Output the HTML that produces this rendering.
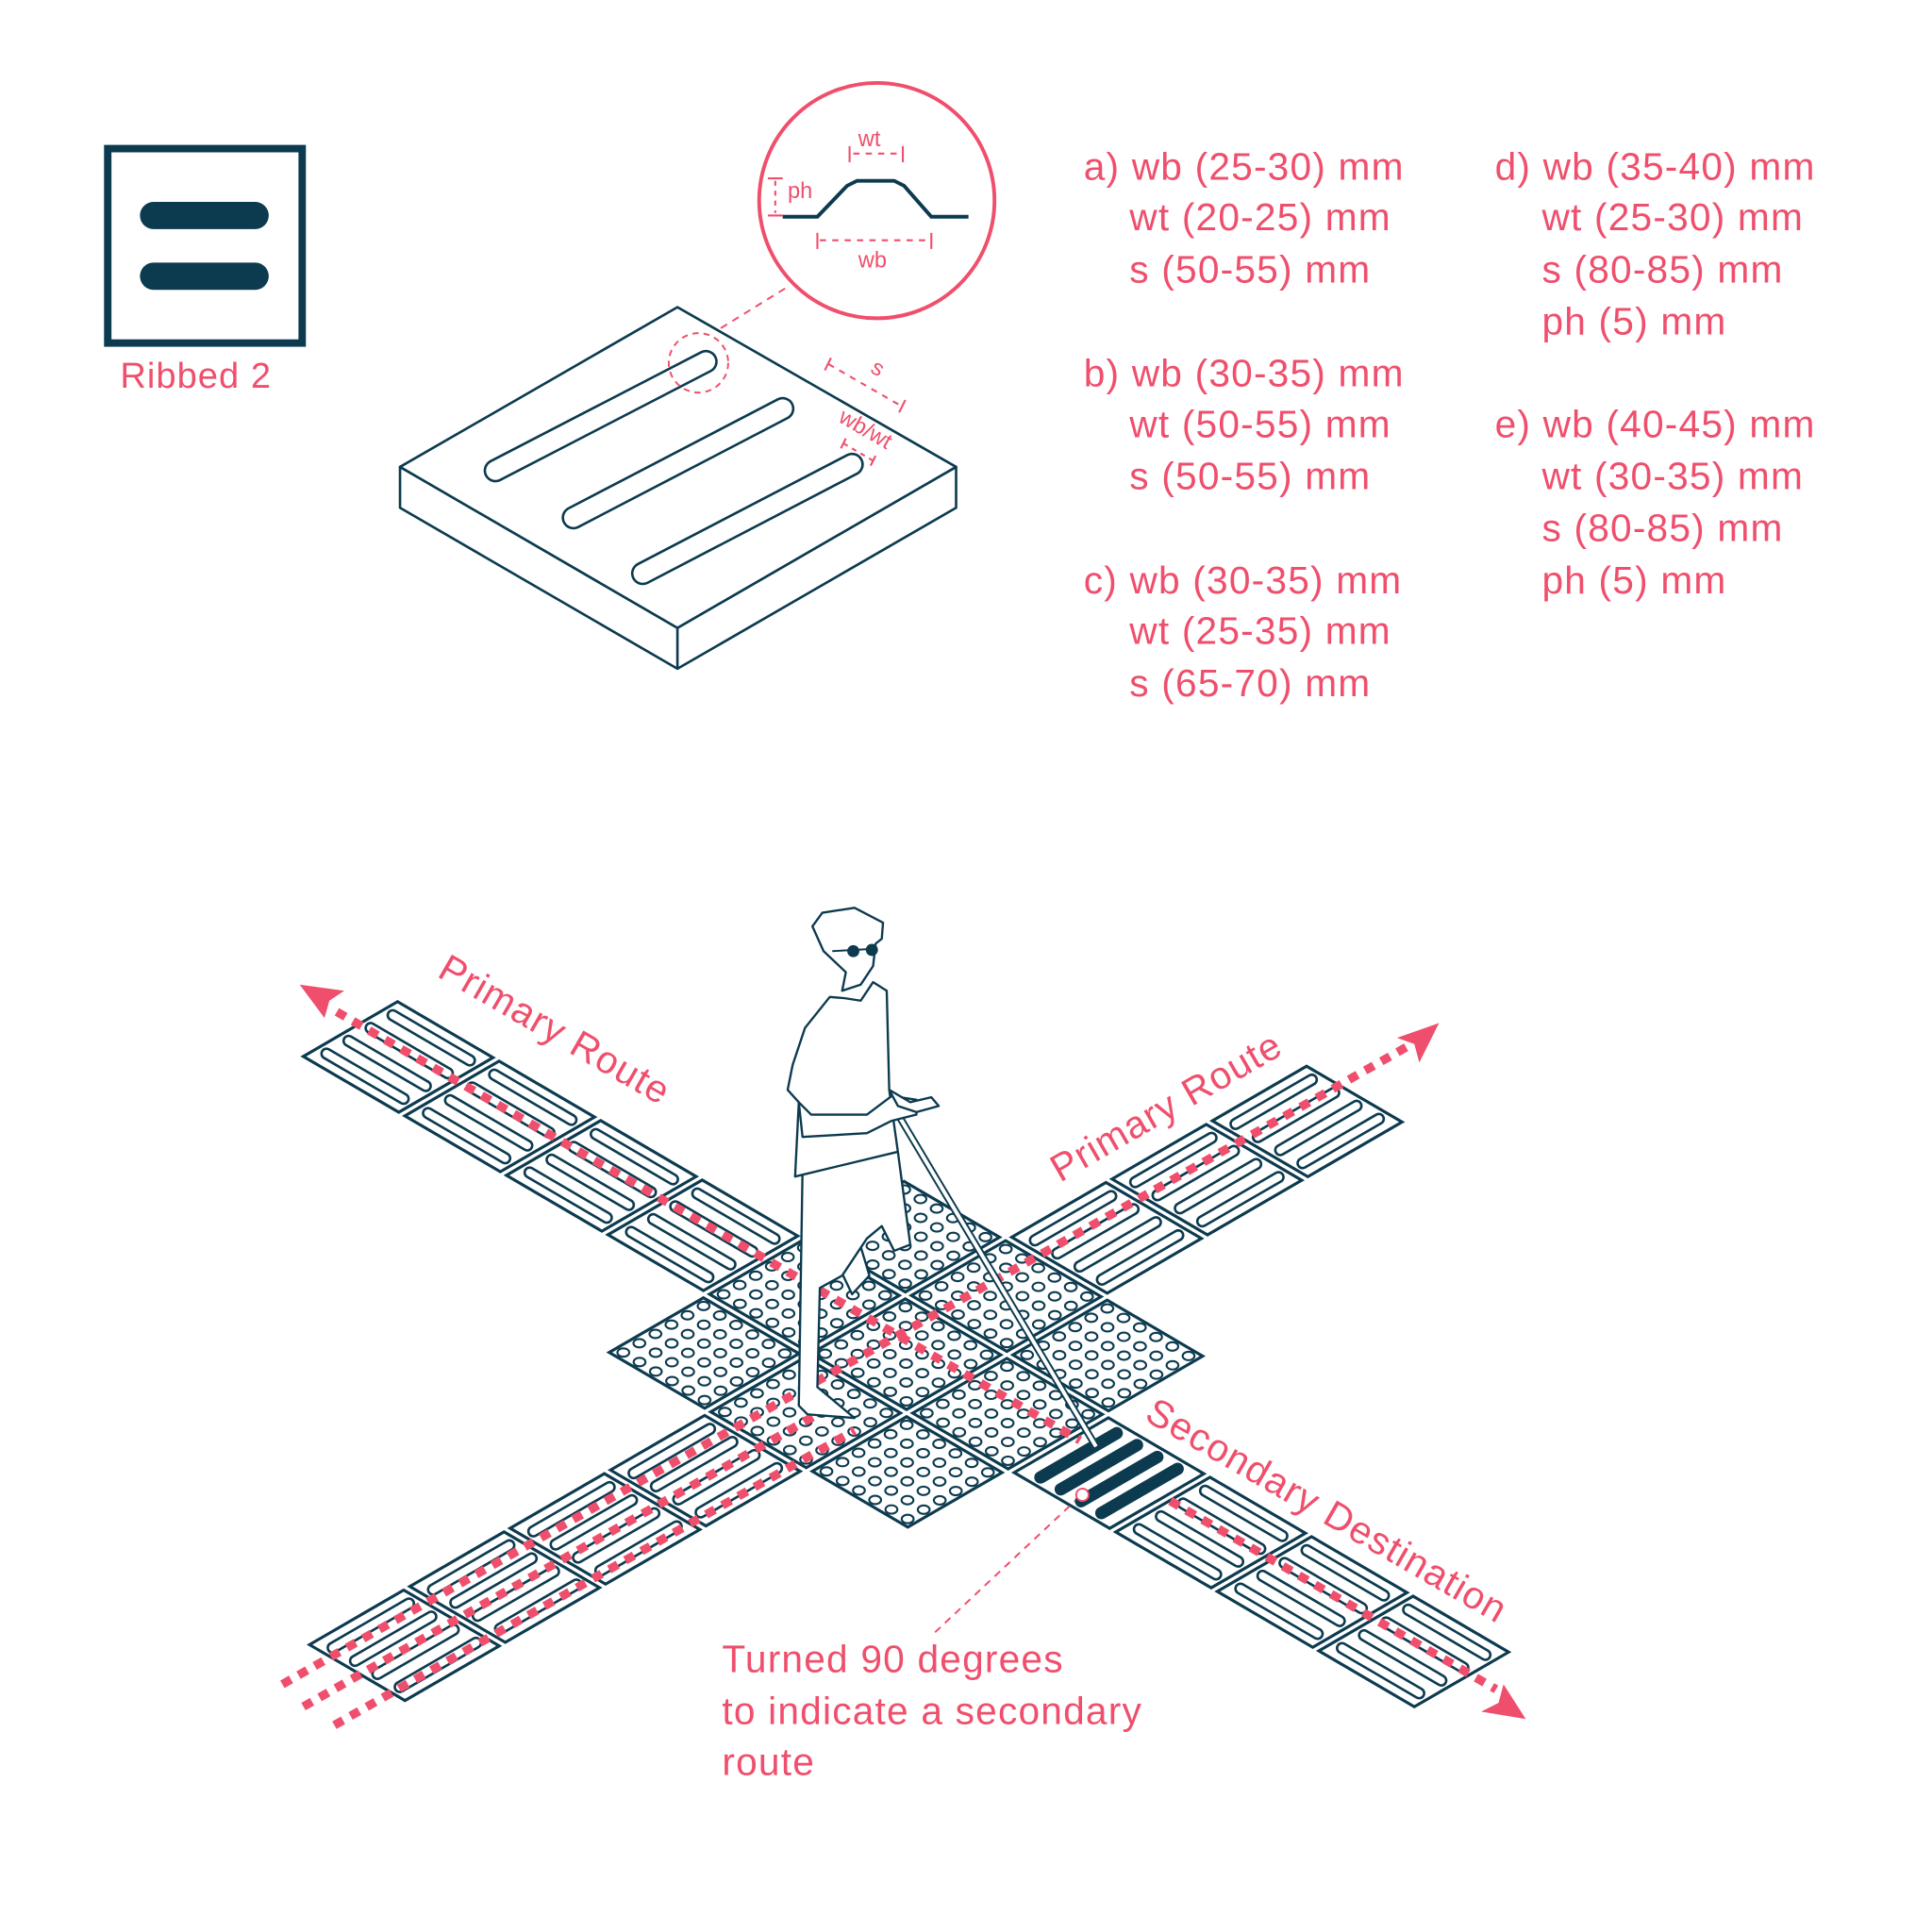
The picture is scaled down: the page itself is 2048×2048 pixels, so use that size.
<!DOCTYPE html>
<html><head><meta charset="utf-8">
<style>
html,body{margin:0;padding:0;background:#fff;}
svg{display:block;}
text{font-family:"Liberation Sans",sans-serif;fill:#ef4f6c;}
</style></head>
<body>
<svg id="s" width="2048" height="2048" viewBox="0 0 1560 1560" xmlns="http://www.w3.org/2000/svg">
<rect width="1560" height="1560" fill="#fff"/>
<rect x="87" y="120" width="157" height="157" fill="none" stroke="#0c3a4f" stroke-width="6"/>
<line x1="124" y1="174" x2="206" y2="174" stroke="#0c3a4f" stroke-width="22" stroke-linecap="round"/>
<line x1="124" y1="223" x2="206" y2="223" stroke="#0c3a4f" stroke-width="22" stroke-linecap="round"/>
<text x="97" y="313" font-size="29" letter-spacing="0.8">Ribbed 2</text>

<g stroke="#0c3a4f" stroke-width="2" fill="#fff" stroke-linejoin="round">
<polygon points="323,377 547,507 772,377 772,410 547,540 323,410"/>
<line x1="547" y1="507" x2="547" y2="540"/>
<polygon points="547,248 772,377 547,507 323,377"/>
</g>
<g stroke-linecap="round" fill="none">
<line x1="400" y1="380" x2="570" y2="292" stroke="#0c3a4f" stroke-width="19"/>
<line x1="400" y1="380" x2="570" y2="292" stroke="#fff" stroke-width="15"/>
<line x1="463" y1="418" x2="632" y2="330" stroke="#0c3a4f" stroke-width="19"/>
<line x1="463" y1="418" x2="632" y2="330" stroke="#fff" stroke-width="15"/>
<line x1="519" y1="463" x2="688" y2="375" stroke="#0c3a4f" stroke-width="19"/>
<line x1="519" y1="463" x2="688" y2="375" stroke="#fff" stroke-width="15"/>
</g>
<g stroke="#ef4f6c" fill="none">
<circle cx="708" cy="162" r="95" stroke-width="3"/>
<circle cx="564" cy="293" r="24" stroke-width="1.5" stroke-dasharray="5,4"/>
<line x1="582" y1="265" x2="637" y2="231" stroke-width="1.5" stroke-dasharray="6,5"/>
<g stroke-width="1.6">
<line x1="686" y1="118" x2="686" y2="131"/><line x1="729" y1="118" x2="729" y2="131"/>
<line x1="689" y1="124" x2="727" y2="124" stroke-dasharray="5,5"/>
<line x1="620" y1="144" x2="632" y2="144"/><line x1="620" y1="174" x2="632" y2="174"/>
<line x1="626" y1="146" x2="626" y2="172" stroke-dasharray="4,4"/>
<line x1="660" y1="188" x2="660" y2="201"/><line x1="752" y1="188" x2="752" y2="201"/>
<line x1="662" y1="194" x2="750" y2="194" stroke-dasharray="5,5"/>
</g>
</g>
<polyline points="632,175 660,175 684,150 692,146 722,146 730,150 752,175 782,175" fill="none" stroke="#0c3a4f" stroke-width="3"/>
<text x="693" y="118" font-size="18">wt</text>
<text x="636" y="160" font-size="18">ph</text>
<text x="693" y="216" font-size="18">wb</text>
<g stroke="#ef4f6c" stroke-width="1.6" fill="none">
<line x1="671" y1="289" x2="666" y2="299"/><line x1="731" y1="323" x2="726" y2="333"/>
<line x1="669" y1="294" x2="728" y2="328" stroke-dasharray="5,5"/>
<line x1="683" y1="354" x2="679" y2="362"/><line x1="707" y1="368" x2="703" y2="376"/>
<line x1="681" y1="358" x2="705" y2="372" stroke-dasharray="4,4"/>
</g>
<text font-size="18" transform="translate(702,300) rotate(30)">s</text>
<text font-size="18" transform="translate(676,340) rotate(30)">wb/wt</text>

<g font-size="31" letter-spacing="0.9">
<text x="875" y="145">a) wb (25-30) mm</text>
<text x="912" y="186">wt (20-25) mm</text>
<text x="912" y="228">s (50-55) mm</text>
<text x="875" y="312">b) wb (30-35) mm</text>
<text x="912" y="353">wt (50-55) mm</text>
<text x="912" y="395">s (50-55) mm</text>
<text x="875" y="479">c) wb (30-35) mm</text>
<text x="912" y="520">wt (25-35) mm</text>
<text x="912" y="562">s (65-70) mm</text>
<text x="1207" y="145">d) wb (35-40) mm</text>
<text x="1245" y="186">wt (25-30) mm</text>
<text x="1245" y="228">s (80-85) mm</text>
<text x="1245" y="270">ph (5) mm</text>
<text x="1207" y="353">e) wb (40-45) mm</text>
<text x="1245" y="395">wt (30-35) mm</text>
<text x="1245" y="437">s (80-85) mm</text>
<text x="1245" y="479">ph (5) mm</text>
</g>

<g id="grid"></g>
<g id="routes" fill="none" stroke="#ef4f6c" stroke-width="7" stroke-dasharray="8,7">
<line x1="272" y1="817" x2="872" y2="1163"/>
<line x1="945" y1="1212" x2="1208" y2="1364"/>
<line x1="228" y1="1360" x2="1140" y2="843"/>
<line x1="245" y1="1378" x2="660" y2="1142"/>
<line x1="270" y1="1393" x2="690" y2="1155"/>
</g>
<g fill="#ef4f6c">
<polygon points="242,795 278,800 266,808 262,822"/>
<polygon points="1162,826 1146,858 1142,843 1128,838"/>
<polygon points="1232,1388 1196,1382 1210,1375 1214,1360"/>
</g>

<g stroke="#0c3a4f" stroke-width="1.8" fill="#fff" stroke-linejoin="round">
<line x1="718" y1="888" x2="885" y2="1168" stroke-width="6"/>
<line x1="718" y1="888" x2="885" y2="1168" stroke="#fff" stroke-width="3"/>
<path d="M676,1020 L690,990 L702,1030 L688,1045 Z"/>
<path d="M648,945 L645,1135 L652,1142 L690,1145 L660,1120 L662,1040 L680,1030 L700,1000 L712,990 L722,1010 L735,1005 L725,930 Z"/>
<path d="M670,805 L650,830 L640,860 L636,880 L645,890 L642,950 L725,930 L718,880 L716,800 L705,793 L695,808 L682,806 Z"/>
<path d="M645,890 L648,918 L700,915 L720,905 L740,900 L740,888 L720,885 L700,900 L655,900 Z"/>
<path d="M718,880 L735,890 L752,886 L758,893 L740,898 L725,893 Z"/>
<path d="M680,800 L683,785 L665,768 L656,748 L664,737 L690,733 L713,745 L712,758 L707,762 L705,780 L695,795 Z"/>
<circle cx="689" cy="768" r="4" fill="#0c3a4f"/>
<circle cx="704" cy="767" r="4" fill="#0c3a4f"/>
<line x1="672" y1="768" x2="708" y2="766" stroke-width="1.5"/>
</g>

<g font-size="31" letter-spacing="0.9">
<text transform="translate(352,788) rotate(30)">Primary Route</text>
<text transform="translate(856,955) rotate(-30)">Primary Route</text>
<text transform="translate(923,1146) rotate(30)">Secondary Destination</text>
<text x="583" y="1350">Turned 90 degrees</text>
<text x="583" y="1392">to indicate a secondary</text>
<text x="583" y="1433">route</text>
</g>
<line x1="755" y1="1318" x2="868" y2="1212" stroke="#ef4f6c" stroke-width="1.5" stroke-dasharray="6,5"/>
<circle cx="874" cy="1207" r="5" fill="#fff" stroke="#ef4f6c" stroke-width="1.5"/>
</svg>
<script>
(function(){
var NS="http://www.w3.org/2000/svg";
var g=document.getElementById('grid');
var O=[487,1092],A=[81,-47],B=[82,48];
function P(i,j){return [O[0]+i*A[0]+j*B[0],O[1]+i*A[1]+j*B[1]];}
function el(t,a){var e=document.createElementNS(NS,t);for(var k in a)e.setAttribute(k,a[k]);g.appendChild(e);return e;}
function pts(a){return a.map(function(p){return p[0].toFixed(1)+','+p[1].toFixed(1)}).join(' ');}
var N="#0c3a4f";
function tile(i,j){var d=0.03;
 el('polygon',{points:pts([P(i+d,j+d),P(i+1-d,j+d),P(i+1-d,j+1-d),P(i+d,j+1-d)]),fill:'#fff',stroke:N,'stroke-width':2.4});}
function ribs(i,j,dir,dark){
 var pos=dark?[0.2,0.4,0.6,0.8]:[0.17,0.39,0.61,0.83];
 pos.forEach(function(a){var p1,p2;
  if(dir=='B'){p1=P(i+a,j+0.12);p2=P(i+a,j+0.88);}else{p1=P(i+0.12,j+a);p2=P(i+0.88,j+a);}
  el('line',{x1:p1[0],y1:p1[1],x2:p2[0],y2:p2[1],stroke:N,'stroke-width':dark?10:10,'stroke-linecap':'round'});
  if(!dark)el('line',{x1:p1[0],y1:p1[1],x2:p2[0],y2:p2[1],stroke:'#fff','stroke-width':6,'stroke-linecap':'round'});
 });}
function dots(i,j){for(var a=0;a<6;a++)for(var b=0;b<6;b++){var p=P(i+0.1+a*0.8/5,j+0.1+b*0.8/5);
 el('ellipse',{cx:p[0],cy:p[1],rx:4.8,ry:3.4,fill:'#fff',stroke:N,'stroke-width':1.6});}}
var i,j;
for(j=-4;j<0;j++){tile(1,j);ribs(1,j,'B');}
for(i=3;i<6;i++){tile(i,1);ribs(i,1,'A');}
for(i=0;i<3;i++)for(j=0;j<3;j++){tile(i,j);dots(i,j);}
for(i=-4;i<0;i++){tile(i,1);ribs(i,1,'A');}
for(j=3;j<7;j++){tile(1,j);if(j==3)ribs(1,j,'A',true);else ribs(1,j,'B');}
})();
</script>
</body></html>
